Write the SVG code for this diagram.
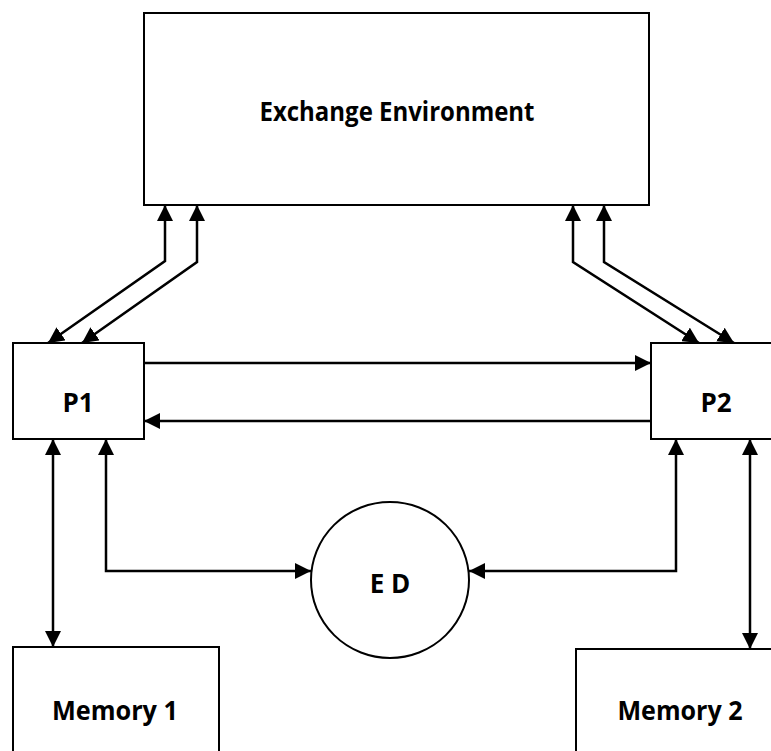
<svg xmlns="http://www.w3.org/2000/svg" width="771" height="751" viewBox="0 0 771 751">
<defs>
<style>
.box{fill:#fff;stroke:#000;stroke-width:2}
.lbl{font-family:"Open Sans","Liberation Sans",sans-serif;font-weight:bold;font-size:26px;fill:#000;text-anchor:middle}
.c{fill:none;stroke:#000;stroke-width:2.5}
</style>
<marker id="ah" markerUnits="userSpaceOnUse" markerWidth="16" markerHeight="16" viewBox="0 0 16 16" refX="16" refY="8" orient="auto-start-reverse">
<path d="M0,0 L16,8 L0,16 z" fill="#000"/>
</marker>
</defs>
<rect width="771" height="751" fill="#fff"/>
<g id="exchange">
<rect class="box" x="144" y="13" width="505" height="192"/>
<text class="lbl" x="397" y="121" textLength="275" lengthAdjust="spacingAndGlyphs">Exchange Environment</text>
</g>
<g id="p1">
<rect class="box" x="13" y="343" width="131" height="96"/>
<text class="lbl" x="78" y="412">P1</text>
</g>
<g id="p2">
<rect class="box" x="651" y="343" width="130" height="96"/>
<text class="lbl" x="716" y="412">P2</text>
</g>
<g id="ed">
<ellipse class="box" cx="390" cy="580" rx="79" ry="78"/>
<text class="lbl" x="390" y="593">E D</text>
</g>
<g id="memory1">
<rect class="box" x="13" y="647" width="206" height="120"/>
<text class="lbl" x="115" y="720" textLength="126" lengthAdjust="spacingAndGlyphs">Memory 1</text>
</g>
<g id="memory2">
<rect class="box" x="576" y="649" width="205" height="120"/>
<text class="lbl" x="680" y="720" textLength="125" lengthAdjust="spacingAndGlyphs">Memory 2</text>
</g>
<g id="connectors">
<path class="c" d="M48,343 L165,261 L165,205" marker-start="url(#ah)" marker-end="url(#ah)"/>
<path class="c" d="M82,343 L197,262 L197,205" marker-start="url(#ah)" marker-end="url(#ah)"/>
<path class="c" d="M699,343 L573,262 L573,205" marker-start="url(#ah)" marker-end="url(#ah)"/>
<path class="c" d="M734,343 L604,262 L604,205" marker-start="url(#ah)" marker-end="url(#ah)"/>
<path class="c" d="M144,363 L651,363" marker-end="url(#ah)"/>
<path class="c" d="M651,421 L144,421" marker-end="url(#ah)"/>
<path class="c" d="M53,439 L53,647" marker-start="url(#ah)" marker-end="url(#ah)"/>
<path class="c" d="M750,439 L750,649" marker-start="url(#ah)" marker-end="url(#ah)"/>
<path class="c" d="M106,439 L106,571 L311,571" marker-start="url(#ah)" marker-end="url(#ah)"/>
<path class="c" d="M676,439 L676,571 L469,571" marker-start="url(#ah)" marker-end="url(#ah)"/>
</g>
</svg>
